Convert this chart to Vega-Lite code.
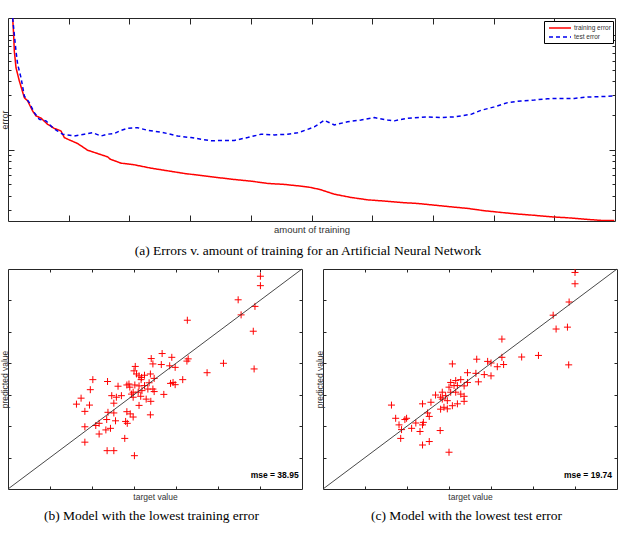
{
  "$schema": "https://vega.github.io/schema/vega-lite/v6.json",
  "padding": {"left": 0, "top": 17, "right": 6, "bottom": 0},
  "background": "white",
  "config": {
    "view": {"stroke": "#262626", "strokeWidth": 1},
    "axis": {"labels": false, "grid": false, "domain": false, "tickColor": "#262626", "tickWidth": 1, "titleFont": "Liberation Sans", "titleFontWeight": "normal", "titleColor": "#333333", "minExtent": 0, "maxExtent": 200},
    "axisLeft": {"titleBaseline": "alphabetic", "titlePadding": 0}
  },
  "datasets": {
    "curves": [
      {"step": 7.7, "error": 14.1, "series": "training error"},
      {"step": 9.3, "error": 10.1, "series": "training error"},
      {"step": 10.4, "error": 7.26, "series": "training error"},
      {"step": 13.2, "error": 5.2, "series": "training error"},
      {"step": 18.7, "error": 3.98, "series": "training error"},
      {"step": 26.9, "error": 2.85, "series": "training error"},
      {"step": 32.4, "error": 2.67, "series": "training error"},
      {"step": 40.6, "error": 2.18, "series": "training error"},
      {"step": 46.1, "error": 1.98, "series": "training error"},
      {"step": 54.4, "error": 1.89, "series": "training error"},
      {"step": 65.3, "error": 1.67, "series": "training error"},
      {"step": 76.3, "error": 1.54, "series": "training error"},
      {"step": 87.3, "error": 1.46, "series": "training error"},
      {"step": 92.8, "error": 1.28, "series": "training error"},
      {"step": 98.3, "error": 1.24, "series": "training error"},
      {"step": 114.8, "error": 1.135, "series": "training error"},
      {"step": 131.2, "error": 0.993, "series": "training error"},
      {"step": 147.7, "error": 0.929, "series": "training error"},
      {"step": 164.2, "error": 0.869, "series": "training error"},
      {"step": 168.6, "error": 0.829, "series": "training error"},
      {"step": 186.2, "error": 0.766, "series": "training error"},
      {"step": 208.1, "error": 0.741, "series": "training error"},
      {"step": 235.6, "error": 0.693, "series": "training error"},
      {"step": 263.0, "error": 0.657, "series": "training error"},
      {"step": 290.5, "error": 0.623, "series": "training error"},
      {"step": 318.0, "error": 0.598, "series": "training error"},
      {"step": 345.4, "error": 0.574, "series": "training error"},
      {"step": 372.9, "error": 0.552, "series": "training error"},
      {"step": 400.3, "error": 0.534, "series": "training error"},
      {"step": 427.8, "error": 0.51, "series": "training error"},
      {"step": 455.2, "error": 0.5, "series": "training error"},
      {"step": 482.7, "error": 0.483, "series": "training error"},
      {"step": 499.2, "error": 0.47, "series": "training error"},
      {"step": 515.6, "error": 0.449, "series": "training error"},
      {"step": 537.6, "error": 0.411, "series": "training error"},
      {"step": 565.1, "error": 0.385, "series": "training error"},
      {"step": 592.5, "error": 0.367, "series": "training error"},
      {"step": 620.0, "error": 0.358, "series": "training error"},
      {"step": 647.4, "error": 0.348, "series": "training error"},
      {"step": 674.9, "error": 0.341, "series": "training error"},
      {"step": 702.3, "error": 0.33, "series": "training error"},
      {"step": 729.8, "error": 0.319, "series": "training error"},
      {"step": 757.3, "error": 0.309, "series": "training error"},
      {"step": 784.7, "error": 0.295, "series": "training error"},
      {"step": 812.2, "error": 0.285, "series": "training error"},
      {"step": 839.6, "error": 0.276, "series": "training error"},
      {"step": 867.1, "error": 0.269, "series": "training error"},
      {"step": 894.6, "error": 0.261, "series": "training error"},
      {"step": 922.0, "error": 0.256, "series": "training error"},
      {"step": 949.5, "error": 0.249, "series": "training error"},
      {"step": 976.9, "error": 0.243, "series": "training error"},
      {"step": 998.9, "error": 0.242, "series": "training error"},
      {"step": 7.7, "error": 14.1, "series": "test error"},
      {"step": 10.4, "error": 10.1, "series": "test error"},
      {"step": 13.2, "error": 7.26, "series": "test error"},
      {"step": 15.9, "error": 5.56, "series": "test error"},
      {"step": 21.4, "error": 4.26, "series": "test error"},
      {"step": 26.9, "error": 2.95, "series": "test error"},
      {"step": 35.1, "error": 2.58, "series": "test error"},
      {"step": 43.4, "error": 2.11, "series": "test error"},
      {"step": 51.6, "error": 1.85, "series": "test error"},
      {"step": 62.6, "error": 1.79, "series": "test error"},
      {"step": 73.6, "error": 1.56, "series": "test error"},
      {"step": 81.8, "error": 1.46, "series": "test error"},
      {"step": 90.1, "error": 1.37, "series": "test error"},
      {"step": 98.3, "error": 1.35, "series": "test error"},
      {"step": 109.3, "error": 1.32, "series": "test error"},
      {"step": 125.7, "error": 1.37, "series": "test error"},
      {"step": 139.5, "error": 1.41, "series": "test error"},
      {"step": 153.2, "error": 1.32, "series": "test error"},
      {"step": 164.2, "error": 1.37, "series": "test error"},
      {"step": 175.2, "error": 1.39, "series": "test error"},
      {"step": 186.2, "error": 1.48, "series": "test error"},
      {"step": 197.1, "error": 1.54, "series": "test error"},
      {"step": 213.6, "error": 1.56, "series": "test error"},
      {"step": 230.1, "error": 1.48, "series": "test error"},
      {"step": 252.1, "error": 1.43, "series": "test error"},
      {"step": 279.5, "error": 1.32, "series": "test error"},
      {"step": 301.5, "error": 1.28, "series": "test error"},
      {"step": 318.0, "error": 1.24, "series": "test error"},
      {"step": 334.4, "error": 1.2, "series": "test error"},
      {"step": 350.9, "error": 1.21, "series": "test error"},
      {"step": 372.9, "error": 1.21, "series": "test error"},
      {"step": 394.8, "error": 1.28, "series": "test error"},
      {"step": 416.8, "error": 1.37, "series": "test error"},
      {"step": 438.7, "error": 1.35, "series": "test error"},
      {"step": 460.7, "error": 1.37, "series": "test error"},
      {"step": 477.2, "error": 1.41, "series": "test error"},
      {"step": 482.7, "error": 1.44, "series": "test error"},
      {"step": 493.7, "error": 1.51, "series": "test error"},
      {"step": 504.6, "error": 1.585, "series": "test error"},
      {"step": 521.1, "error": 1.81, "series": "test error"},
      {"step": 537.6, "error": 1.65, "series": "test error"},
      {"step": 559.5, "error": 1.76, "series": "test error"},
      {"step": 581.5, "error": 1.82, "series": "test error"},
      {"step": 603.5, "error": 1.91, "series": "test error"},
      {"step": 625.4, "error": 1.82, "series": "test error"},
      {"step": 636.4, "error": 1.79, "series": "test error"},
      {"step": 658.4, "error": 1.89, "series": "test error"},
      {"step": 691.3, "error": 1.94, "series": "test error"},
      {"step": 713.3, "error": 1.91, "series": "test error"},
      {"step": 735.3, "error": 1.94, "series": "test error"},
      {"step": 762.8, "error": 2.04, "series": "test error"},
      {"step": 779.2, "error": 2.21, "series": "test error"},
      {"step": 801.2, "error": 2.37, "series": "test error"},
      {"step": 823.2, "error": 2.58, "series": "test error"},
      {"step": 845.2, "error": 2.67, "series": "test error"},
      {"step": 867.1, "error": 2.72, "series": "test error"},
      {"step": 889.1, "error": 2.79, "series": "test error"},
      {"step": 911.0, "error": 2.81, "series": "test error"},
      {"step": 933.0, "error": 2.81, "series": "test error"},
      {"step": 955.0, "error": 2.89, "series": "test error"},
      {"step": 976.9, "error": 2.91, "series": "test error"},
      {"step": 998.9, "error": 2.95, "series": "test error"}
    ],
    "lowTrain": [
      {"target": 50.1, "predicted": 57.7}, {"target": 50.1, "predicted": 54.7}, {"target": 44.8, "predicted": 50.2},
      {"target": 48.8, "predicted": 48.1}, {"target": 45.5, "predicted": 45.4}, {"target": 48.4, "predicted": 40.2},
      {"target": 48.6, "predicted": 28.2}, {"target": 32.7, "predicted": 43.7}, {"target": 41.3, "predicted": 30.0},
      {"target": 37.4, "predicted": 27.0}, {"target": 32.9, "predicted": 31.4}, {"target": 32.6, "predicted": 30.7},
      {"target": 26.7, "predicted": 33.1}, {"target": 29.0, "predicted": 31.9}, {"target": 24.1, "predicted": 31.5},
      {"target": 24.5, "predicted": 29.8}, {"target": 26.5, "predicted": 29.6}, {"target": 29.8, "predicted": 28.7},
      {"target": 28.5, "predicted": 29.2}, {"target": 20.3, "predicted": 29.0}, {"target": 20.0, "predicted": 27.6},
      {"target": 20.6, "predicted": 26.6}, {"target": 21.2, "predicted": 26.0}, {"target": 21.8, "predicted": 25.5},
      {"target": 22.5, "predicted": 26.2}, {"target": 23.9, "predicted": 26.6}, {"target": 24.8, "predicted": 25.2},
      {"target": 21.7, "predicted": 24.8}, {"target": 31.6, "predicted": 24.8}, {"target": 28.7, "predicted": 23.6},
      {"target": 29.8, "predicted": 23.2}, {"target": 29.3, "predicted": 23.9}, {"target": 18.3, "predicted": 23.1},
      {"target": 18.8, "predicted": 23.4}, {"target": 20.2, "predicted": 23.1}, {"target": 21.2, "predicted": 22.8},
      {"target": 22.5, "predicted": 22.9}, {"target": 23.6, "predicted": 23.8}, {"target": 23.3, "predicted": 21.8},
      {"target": 24.5, "predicted": 21.8}, {"target": 24.8, "predicted": 21.0}, {"target": 19.0, "predicted": 22.4},
      {"target": 21.9, "predicted": 21.3}, {"target": 19.8, "predicted": 20.8}, {"target": 21.0, "predicted": 20.8},
      {"target": 27.1, "predicted": 20.1}, {"target": 19.4, "predicted": 20.2}, {"target": 17.0, "predicted": 19.7},
      {"target": 15.8, "predicted": 19.2}, {"target": 14.7, "predicted": 19.7}, {"target": 15.2, "predicted": 17.3},
      {"target": 19.8, "predicted": 19.2}, {"target": 21.6, "predicted": 19.5}, {"target": 22.9, "predicted": 18.6},
      {"target": 24.0, "predicted": 17.9}, {"target": 21.2, "predicted": 16.6}, {"target": 16.2, "predicted": 22.7},
      {"target": 13.7, "predicted": 24.2}, {"target": 10.2, "predicted": 24.8}, {"target": 9.6, "predicted": 21.6},
      {"target": 7.4, "predicted": 18.9}, {"target": 6.3, "predicted": 17.0}, {"target": 9.4, "predicted": 16.7},
      {"target": 8.3, "predicted": 14.7}, {"target": 18.3, "predicted": 14.6}, {"target": 19.1, "predicted": 13.9},
      {"target": 19.8, "predicted": 12.9}, {"target": 23.9, "predicted": 13.6}, {"target": 13.8, "predicted": 14.4},
      {"target": 15.2, "predicted": 14.2}, {"target": 15.6, "predicted": 11.7}, {"target": 13.5, "predicted": 12.1},
      {"target": 11.7, "predicted": 10.9}, {"target": 10.9, "predicted": 10.2}, {"target": 8.3, "predicted": 9.8},
      {"target": 13.3, "predicted": 8.8}, {"target": 11.7, "predicted": 7.5}, {"target": 14.4, "predicted": 9.3},
      {"target": 18.0, "predicted": 11.5}, {"target": 18.4, "predicted": 10.9}, {"target": 17.8, "predicted": 6.1},
      {"target": 8.3, "predicted": 4.9}, {"target": 13.6, "predicted": 2.2}, {"target": 15.2, "predicted": 2.2},
      {"target": 20.1, "predicted": 0.6}
    ],
    "lowTest": [
      {"target": 50.0, "predicted": 58.9}, {"target": 50.0, "predicted": 55.3}, {"target": 48.6, "predicted": 49.5},
      {"target": 44.8, "predicted": 45.3}, {"target": 48.2, "predicted": 41.5}, {"target": 45.5, "predicted": 40.9},
      {"target": 48.5, "predicted": 29.5}, {"target": 32.6, "predicted": 37.7}, {"target": 32.6, "predicted": 31.9},
      {"target": 33.0, "predicted": 29.6}, {"target": 37.3, "predicted": 32.0}, {"target": 41.3, "predicted": 32.5},
      {"target": 26.6, "predicted": 31.3}, {"target": 29.2, "predicted": 30.6}, {"target": 30.0, "predicted": 30.1},
      {"target": 31.5, "predicted": 28.9}, {"target": 30.0, "predicted": 26.0}, {"target": 28.4, "predicted": 26.4},
      {"target": 26.4, "predicted": 26.8}, {"target": 24.4, "predicted": 27.0}, {"target": 27.0, "predicted": 24.1},
      {"target": 24.4, "predicted": 23.9}, {"target": 20.8, "predicted": 29.8}, {"target": 22.8, "predicted": 24.8},
      {"target": 22.0, "predicted": 22.9}, {"target": 23.6, "predicted": 22.8}, {"target": 21.2, "predicted": 22.9},
      {"target": 20.0, "predicted": 22.4}, {"target": 20.4, "predicted": 23.9}, {"target": 21.6, "predicted": 24.5},
      {"target": 20.4, "predicted": 20.8}, {"target": 21.6, "predicted": 20.8}, {"target": 22.8, "predicted": 20.2},
      {"target": 23.6, "predicted": 19.5}, {"target": 19.2, "predicted": 19.7}, {"target": 18.4, "predicted": 18.6},
      {"target": 19.6, "predicted": 18.1}, {"target": 22.0, "predicted": 17.1}, {"target": 23.6, "predicted": 17.9},
      {"target": 20.8, "predicted": 16.5}, {"target": 18.8, "predicted": 16.0}, {"target": 18.0, "predicted": 15.4},
      {"target": 19.6, "predicted": 15.5}, {"target": 18.4, "predicted": 20.8}, {"target": 16.8, "predicted": 19.9},
      {"target": 18.0, "predicted": 19.2}, {"target": 15.7, "predicted": 17.6}, {"target": 13.7, "predicted": 17.1},
      {"target": 14.9, "predicted": 14.2}, {"target": 15.3, "predicted": 13.1}, {"target": 6.3, "predicted": 16.7},
      {"target": 7.3, "predicted": 12.5}, {"target": 9.9, "predicted": 12.5}, {"target": 9.5, "predicted": 12.1},
      {"target": 8.1, "predicted": 10.4}, {"target": 8.7, "predicted": 8.9}, {"target": 11.1, "predicted": 9.3},
      {"target": 12.1, "predicted": 11.0}, {"target": 13.9, "predicted": 11.2}, {"target": 13.7, "predicted": 10.4},
      {"target": 13.1, "predicted": 8.3}, {"target": 8.5, "predicted": 6.1}, {"target": 13.7, "predicted": 4.0},
      {"target": 15.3, "predicted": 5.1}, {"target": 17.9, "predicted": 8.6}, {"target": 20.0, "predicted": 1.7}
    ]
  },
  "spacing": 8,
  "vconcat": [
    {
      "width": 607,
      "height": 203,
      "data": {"name": "curves"},
      "title": {"text": "(a)  Errors v. amount of training for an Artificial Neural Network", "orient": "bottom", "frame": "bounds", "anchor": "middle", "font": "Liberation Serif", "fontSize": 13.5, "fontWeight": "normal", "color": "#000000", "offset": 10},
      "layer": [
        {
          "mark": {"type": "line", "strokeWidth": 1.5, "clip": true},
          "encoding": {
            "x": {"field": "step", "type": "quantitative", "scale": {"domain": [0, 1000], "nice": false, "zero": false},
                  "axis": {"title": "amount of training", "titleFontSize": 9.5, "titlePadding": 3, "values": [100, 200, 300, 400, 500, 600, 700, 800, 900], "tickSize": -6}},
            "y": {"field": "error", "type": "quantitative", "scale": {"type": "log", "domain": [0.24, 14.1], "nice": false},
                  "axis": {"title": "error", "titleFontSize": 9, "titlePadding": 0, "titleBaseline": "alphabetic", "values": [0.3, 0.4, 0.5, 0.6, 0.7, 0.8, 0.9, 1, 2, 3, 4, 5, 6, 7, 8, 9, 10],
                           "tickSize": {"condition": {"test": "datum.value == 1 || datum.value == 10", "value": -6}, "value": -3}}},
            "color": {"field": "series", "type": "nominal", "scale": {"domain": ["training error", "test error"], "range": ["#ff0000", "#0000ee"]},
                      "legend": {"title": null, "orient": "none", "legendX": 536, "legendY": 3, "strokeColor": "#000000", "fillColor": "#ffffff", "padding": 2, "symbolType": "M-0.5,0L5,0", "symbolSize": 64, "symbolStrokeWidth": 1.5, "labelFontSize": 6.5, "labelFont": "Liberation Sans", "labelColor": "#333333", "rowPadding": 0, "labelOffset": 18}},
            "strokeDash": {"field": "series", "type": "nominal", "scale": {"domain": ["training error", "test error"], "range": [[1, 0], [4, 3]]},
                      "legend": {"title": null, "orient": "none", "legendX": 536, "legendY": 3, "strokeColor": "#000000", "fillColor": "#ffffff", "padding": 2, "symbolType": "M-0.5,0L5,0", "symbolSize": 64, "symbolStrokeWidth": 1.5, "labelFontSize": 6.5, "labelFont": "Liberation Sans", "labelColor": "#333333", "rowPadding": 0, "labelOffset": 18}}
          }
        },
        {
          "mark": {"type": "line", "opacity": 0},
          "encoding": {
            "x": {"field": "step", "type": "quantitative", "axis": {"orient": "top", "title": null, "values": [100, 200, 300, 400, 500, 600, 700, 800, 900], "tickSize": -6}},
            "y": {"field": "error", "type": "quantitative", "axis": {"orient": "right", "title": null, "values": [0.3, 0.4, 0.5, 0.6, 0.7, 0.8, 0.9, 1, 2, 3, 4, 5, 6, 7, 8, 9, 10],
                  "tickSize": {"condition": {"test": "datum.value == 1 || datum.value == 10", "value": -6}, "value": -3}}},
            "detail": {"field": "series", "type": "nominal"}
          }
        }
      ],
      "resolve": {"axis": {"x": "independent", "y": "independent"}}
    },
    {
      "spacing": 12,
      "hconcat": [
        {
          "width": 294,
          "height": 220,
          "title": {"text": "(b)  Model with the lowest training error", "orient": "bottom", "frame": "bounds", "anchor": "middle", "font": "Liberation Serif", "fontSize": 13.5, "fontWeight": "normal", "color": "#000000", "offset": 8},
          "layer": [
            {
              "data": {"name": "lowTrain"},
              "mark": {"type": "point", "shape": "M-1,0L1,0M0,-1L0,1", "filled": false, "stroke": "#ff0000", "strokeWidth": 1, "size": 49, "opacity": 1},
              "encoding": {
                "x": {"field": "target", "type": "quantitative", "scale": {"domain": [-10, 60], "nice": false, "zero": false},
                      "axis": {"title": "target value", "titleFontSize": 8.5, "titlePadding": 3, "values": [0, 10, 20, 30, 40, 50], "tickSize": -3}},
                "y": {"field": "predicted", "type": "quantitative", "scale": {"domain": [-10, 60], "nice": false, "zero": false},
                      "axis": {"title": "predicted value", "titleFontSize": 8.5, "titlePadding": 0, "titleBaseline": "alphabetic", "values": [0, 10, 20, 30, 40, 50], "tickSize": -3}}
              }
            },
            {
              "data": {"values": [{}]},
              "mark": {"type": "rule", "color": "#333333", "strokeWidth": 0.9},
              "encoding": {
                "x": {"datum": -10, "type": "quantitative", "axis": {"orient": "top", "title": null, "values": [0, 10, 20, 30, 40, 50], "tickSize": -3}},
                "y": {"datum": -10, "type": "quantitative", "axis": {"orient": "right", "title": null, "values": [0, 10, 20, 30, 40, 50], "tickSize": -3}},
                "x2": {"datum": 60},
                "y2": {"datum": 60}
              }
            },
            {
              "data": {"values": [{}]},
              "mark": {"type": "text", "text": "mse = 38.95", "align": "right", "baseline": "middle", "font": "Liberation Sans", "fontSize": 8.5, "fontWeight": "bold", "fill": "#000000"},
              "encoding": {
                "x": {"datum": 59.2, "type": "quantitative", "axis": null},
                "y": {"datum": -5.5, "type": "quantitative", "axis": null}
              }
            }
          ],
          "resolve": {"axis": {"x": "independent", "y": "independent"}}
        },
        {
          "width": 294,
          "height": 220,
          "title": {"text": "(c)  Model with the lowest test error", "orient": "bottom", "frame": "bounds", "anchor": "middle", "font": "Liberation Serif", "fontSize": 13.5, "fontWeight": "normal", "color": "#000000", "offset": 8},
          "layer": [
            {
              "data": {"name": "lowTest"},
              "mark": {"type": "point", "shape": "M-1,0L1,0M0,-1L0,1", "filled": false, "stroke": "#ff0000", "strokeWidth": 1, "size": 49, "opacity": 1},
              "encoding": {
                "x": {"field": "target", "type": "quantitative", "scale": {"domain": [-10, 60], "nice": false, "zero": false},
                      "axis": {"title": "target value", "titleFontSize": 8.5, "titlePadding": 3, "values": [0, 10, 20, 30, 40, 50], "tickSize": -3}},
                "y": {"field": "predicted", "type": "quantitative", "scale": {"domain": [-10, 60], "nice": false, "zero": false},
                      "axis": {"title": "predicted value", "titleFontSize": 8.5, "titlePadding": 0, "titleBaseline": "alphabetic", "values": [0, 10, 20, 30, 40, 50], "tickSize": -3}}
              }
            },
            {
              "data": {"values": [{}]},
              "mark": {"type": "rule", "color": "#333333", "strokeWidth": 0.9},
              "encoding": {
                "x": {"datum": -10, "type": "quantitative", "axis": {"orient": "top", "title": null, "values": [0, 10, 20, 30, 40, 50], "tickSize": -3}},
                "y": {"datum": -10, "type": "quantitative", "axis": {"orient": "right", "title": null, "values": [0, 10, 20, 30, 40, 50], "tickSize": -3}},
                "x2": {"datum": 60},
                "y2": {"datum": 60}
              }
            },
            {
              "data": {"values": [{}]},
              "mark": {"type": "text", "text": "mse = 19.74", "align": "right", "baseline": "middle", "font": "Liberation Sans", "fontSize": 8.5, "fontWeight": "bold", "fill": "#000000"},
              "encoding": {
                "x": {"datum": 58.8, "type": "quantitative", "axis": null},
                "y": {"datum": -5.5, "type": "quantitative", "axis": null}
              }
            }
          ],
          "resolve": {"axis": {"x": "independent", "y": "independent"}}
        }
      ]
    }
  ]
}
